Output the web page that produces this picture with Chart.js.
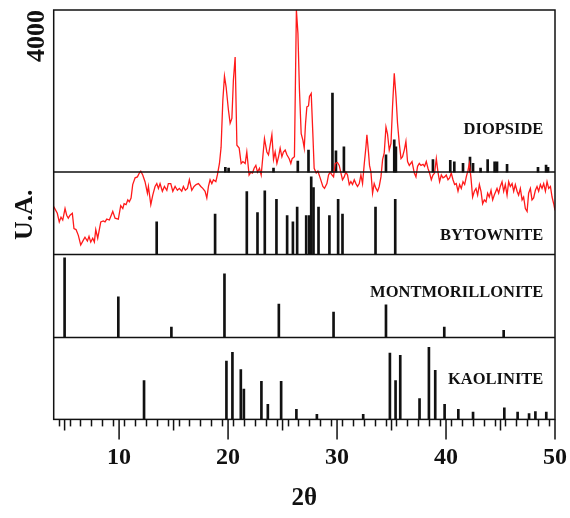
<!DOCTYPE html>
<html><head><meta charset="utf-8">
<script src="https://cdn.jsdelivr.net/npm/chart.js@4.4.1/dist/chart.umd.min.js"></script>
<style>html,body{margin:0;padding:0;background:#fff}canvas{display:block}</style>
</head><body>
<canvas id="c" width="570" height="518"></canvas>
<script>
// ---- measured pattern (red) ----
const twoTheta = [4.00,4.33,4.51,4.67,4.83,5.04,5.19,5.34,5.50,5.71,5.86,6.05,6.26,6.48,6.72,6.87,7.09,7.24,7.40,7.58,7.73,7.86,8.04,8.32,8.55,8.71,8.87,9.11,9.42,9.63,9.93,10.15,10.34,10.46,10.64,10.80,10.94,11.10,11.25,11.47,11.68,11.86,11.99,12.17,12.38,12.60,12.69,12.91,13.09,13.30,13.46,13.61,13.76,13.97,14.16,14.38,14.52,14.74,14.93,15.14,15.35,15.53,15.75,15.90,16.08,16.27,16.45,16.67,16.88,17.07,17.28,17.50,17.68,17.89,18.05,18.20,18.35,18.51,18.66,18.88,19.02,19.21,19.36,19.52,19.67,19.82,20.03,20.19,20.35,20.49,20.65,20.81,21.02,21.20,21.36,21.57,21.72,21.93,22.09,22.24,22.39,22.55,22.70,22.88,23.04,23.19,23.34,23.56,23.71,23.86,24.02,24.17,24.32,24.48,24.63,24.78,24.94,25.08,25.24,25.40,25.61,25.76,25.88,26.09,26.27,26.41,26.55,26.71,26.87,26.99,27.11,27.23,27.38,27.47,27.63,27.78,27.90,28.09,28.24,28.45,28.70,28.85,29.07,29.22,29.37,29.53,29.68,29.83,30.04,30.20,30.36,30.50,30.66,30.81,30.96,31.12,31.27,31.42,31.58,31.73,31.88,32.04,32.19,32.34,32.50,32.65,32.74,32.89,32.98,33.11,33.26,33.41,33.57,33.72,33.87,34.03,34.18,34.33,34.49,34.63,34.79,34.95,35.09,35.25,35.41,35.55,35.71,35.87,36.01,36.17,36.32,36.47,36.63,36.88,37.09,37.24,37.39,37.55,37.70,37.89,38.03,38.19,38.34,38.49,38.65,38.80,38.95,39.11,39.26,39.41,39.57,39.72,39.87,40.02,40.18,40.33,40.48,40.64,40.79,40.94,41.10,41.25,41.40,41.56,41.71,41.86,42.02,42.14,42.29,42.44,42.60,42.75,42.90,43.06,43.21,43.36,43.51,43.67,43.82,43.97,44.13,44.28,44.43,44.68,44.83,44.98,45.14,45.29,45.44,45.60,45.75,45.90,46.06,46.21,46.36,46.52,46.66,46.82,46.98,47.12,47.28,47.44,47.58,47.74,47.89,48.04,48.20,48.35,48.50,48.66,48.81,48.96,49.12,49.27,49.42,49.58,49.73,49.88,50.00];
const counts = [2220,2150,2060,2110,2080,2200,2130,2100,2130,2150,
1990,1980,1920,1820,1870,1900,1860,1910,1850,1890,
1850,1980,1890,2060,2070,2060,2090,2080,2170,2100,
2090,2230,2200,2250,2240,2290,2270,2310,2450,2520,
2530,2570,2590,2550,2480,2360,2430,2240,2340,2430,
2460,2410,2460,2380,2430,2390,2460,2460,2380,2430,
2390,2410,2380,2430,2390,2410,2500,2390,2430,2450,
2460,2430,2410,2380,2310,2430,2500,2460,2500,2480,
2550,2670,2840,3330,3580,3470,3230,3090,3140,3540,
3780,2860,2830,2670,2690,2670,2790,2550,2580,2570,
2620,2650,2580,2620,2550,2740,2930,2790,2760,2860,
2970,2710,2790,2670,2740,2830,2740,2790,2810,2760,
2720,2670,2720,2740,4270,4030,3440,2980,2910,2830,
3090,3260,3270,3370,3400,2980,2620,2570,2590,2520,
2430,2410,2460,2550,2580,2550,2530,2670,2680,2650,
2570,2500,2530,2580,2550,2450,2480,2450,2500,2460,
2430,2460,2550,2460,2670,2840,2970,2780,2650,2580,
2360,2460,2410,2380,2430,2530,2710,2780,3050,2980,
2810,2880,3260,3610,3370,3090,2880,2720,2740,2810,
2900,2690,2650,
2690,2570,2530,2640,2670,2650,
2660,2640,2690,2620,2570,2500,2550,2570,2720,2580,
2480,2550,2520,2530,2550,2500,2520,2570,2500,2450,
2460,2380,2450,2410,2480,2450,2530,2600,2670,2520,
2320,2380,2410,2340,2450,2380,2250,2290,2270,2360,
2320,2390,2290,2340,2410,2360,2430,2480,2380,2450,
2340,2480,2430,2460,2380,2450,2380,2340,2410,2290,
2320,2200,2170,2360,2410,2290,2310,2390,2430,2380,
2450,2410,2460,2380,2480,2410,2430,2320,2250,2180];

// ---- reference stick patterns (2θ, relative intensity %) ----
const diopsidePos = [19.75,20.05,24.17,26.40,27.38,29.58,29.90,30.63,34.49,35.25,35.40,38.80,40.39,40.76,41.56,42.20,42.48,43.17,43.82,44.46,44.68,45.60,48.44,49.18,49.36];
const diopsideRel = [6,5,5,14,28,100,27,32,22,41,32,16,15,13,11,19,11,5,16,13,13,10,6,9,6];
const bytownitePos = [13.45,18.81,21.72,22.70,23.37,24.44,25.42,25.95,26.34,27.17,27.45,27.63,27.84,28.30,29.30,30.10,30.50,33.53,35.34];
const bytowniteRel = [42,52,81,54,82,71,50,42,61,50,50,100,86,61,50,71,52,61,71];
const montmorillonitePos = [5.00,9.93,14.80,19.67,24.66,29.68,34.49,39.84,45.29];
const montmorilloniteRel = [100,51,13,80,42,32,41,13,9];
const kaolinitePos = [12.29,19.85,20.40,21.17,21.45,23.06,23.65,24.87,26.27,28.15,32.40,34.85,35.37,35.80,37.57,38.43,39.01,39.87,41.13,42.48,45.35,46.57,47.62,48.20,49.20];
const kaoliniteRel = [54,81,93,69,42,53,21,53,14,7,7,92,54,89,29,100,68,21,14,10,16,10,8,11,10];

const xLabelTicks = [10,20,30,40,50];
const yLabelTicks = [4000];
const phaseNames = ['DIOPSIDE','BYTOWNITE','MONTMORILLONITE','KAOLINITE'];

// ---- layout (hidden panel axis, units) ----
const panelBase  = [3.02, 2.015, 1, 0];
const panelFull  = [0.965, 0.948, 0.972, 0.88];
const panelLabelY = [3.485, 2.19, 1.494, 0.432];
const separators = [1, 2.015, 3.02];

const SERIF = '"Liberation Serif", "Times New Roman", serif';

function stickData(pos, rel, k) {
  return pos.map((x, i) => ({x: x, y: [panelBase[k], panelBase[k] + rel[i] / 100 * panelFull[k]]}));
}
const stickSets = [[diopsidePos, diopsideRel],[bytownitePos, bytowniteRel],[montmorillonitePos, montmorilloniteRel],[kaolinitePos, kaoliniteRel]];

const datasets = [{
  type: 'line', label: 'sample', yAxisID: 'yI',
  data: twoTheta.map((t, i) => ({x: t, y: counts[i]})),
  borderColor: '#ff1a1a', borderWidth: 1.3, pointRadius: 0, tension: 0, fill: false
}];
stickSets.forEach((s, k) => datasets.push({
  type: 'bar', label: phaseNames[k], yAxisID: 'yP',
  data: stickData(s[0], s[1], k),
  backgroundColor: '#111', borderWidth: 0, barThickness: 2, grouped: false
}));

const decor = {
  id: 'decor',
  afterDraw(chart) {
    const {ctx, chartArea: a, scales} = chart;
    const x = scales.x, yP = scales.yP;
    ctx.save();
    ctx.strokeStyle = '#111';
    ctx.lineWidth = 1.5;
    ctx.strokeRect(a.left, a.top, a.right - a.left, a.bottom - a.top);
    ctx.beginPath();
    separators.forEach(v => { const y = yP.getPixelForValue(v); ctx.moveTo(a.left, y); ctx.lineTo(a.right, y); });
    x.ticks.forEach(t => {
      const v = Math.round(t.value);
      if (v % 5 === 0) {
        const px = x.getPixelForValue(v);
        ctx.moveTo(px, a.bottom); ctx.lineTo(px, a.bottom + (v % 10 === 0 ? 20 : 11));
      }
    });
    ctx.stroke();
    ctx.fillStyle = '#111';
    ctx.font = 'bold 16.5px ' + SERIF;
    ctx.textAlign = 'right';
    ctx.textBaseline = 'alphabetic';
    const lx = x.getPixelForValue(48.93);
    phaseNames.forEach((n, k) => ctx.fillText(n, lx, yP.getPixelForValue(panelLabelY[k])));
    ctx.restore();
  }
};

new Chart(document.getElementById('c'), {
  type: 'bar',
  data: {datasets},
  options: {
    responsive: false, animation: false,
    layout: {padding: {left: 0, right: 15, top: 10, bottom: 0}},
    plugins: {legend: {display: false}, tooltip: {enabled: false}},
    scales: {
      x: {
        type: 'linear', position: 'bottom', min: 4, max: 50, offset: false,
        grid: {drawOnChartArea: false, drawTicks: true, tickLength: 7, tickColor: '#111', tickWidth: 1.5},
        border: {display: false},
        ticks: {stepSize: 1, autoSkip: false, maxRotation: 0, minRotation: 0, padding: 3, color: '#111',
          font: {family: SERIF, size: 24, weight: 'bold', lineHeight: 2.4},
          callback: v => xLabelTicks.includes(Math.round(v)) ? String(Math.round(v)) : ''},
        title: {display: true, text: '2θ', color: '#111', font: {family: SERIF, size: 25, weight: 'bold'}, padding: {top: -6, bottom: 4}}
      },
      yI: {
        type: 'linear', position: 'left', min: 0, max: 4271,
        afterBuildTicks: ax => { ax.ticks = yLabelTicks.map(v => ({value: v})); },
        grid: {drawOnChartArea: false, drawTicks: false},
        border: {display: false},
        ticks: {minRotation: 90, maxRotation: 90, crossAlign: 'center', padding: -9.3, color: '#111',
          font: {family: SERIF, size: 26, weight: 'bold'}, callback: v => String(v)},
        title: {display: true, text: 'U.A.', color: '#111', font: {family: SERIF, size: 26, weight: 'bold'}, padding: {top: 9.4, bottom: 0.5}}
      },
      yP: {type: 'linear', display: false, min: 0, max: 5}
    }
  },
  plugins: [decor]
});
</script>
</body></html>
